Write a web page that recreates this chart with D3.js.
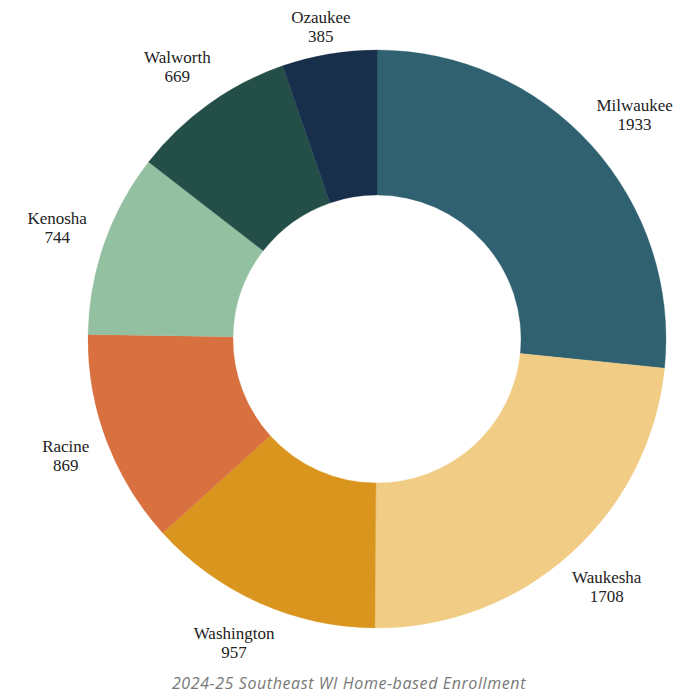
<!DOCTYPE html>
<html><head><meta charset="utf-8">
<script src="https://cdn.jsdelivr.net/npm/d3@7"></script>
<style>
html,body{margin:0;padding:0;background:#fff;}
svg{display:block;}
</style></head>
<body>
<svg id="chart" width="700" height="700"></svg>
<script>
const counties = ["Milwaukee","Waukesha","Washington","Racine","Kenosha","Walworth","Ozaukee"];
const enrollment = [1933,1708,957,869,744,669,385];
const colors = ["#2f6170","#f0cc85","#d9951d","#d9703f","#93c0a0","#244f48","#172f4b"];
const caption = "2024-25 Southeast WI Home-based Enrollment";

const svg = d3.select("#chart");
const cx = 377, cy = 339, R = 289, r = 144;
const data = counties.map((c,i)=>({name:c, value:enrollment[i]}));
const pie = d3.pie().value(d=>d.value).sort(null);
const arcs = pie(data);
const arc = d3.arc().innerRadius(r).outerRadius(R);
const color = d3.scaleOrdinal().domain(counties).range(colors);

const g = svg.append("g").attr("transform",`translate(${cx},${cy})`);
g.selectAll("path").data(arcs).join("path")
  .attr("d",arc).attr("fill",d=>color(d.data.name))
  .attr("stroke",d=>color(d.data.name)).attr("stroke-width",0.3);

const d0 = 20;
const lab = g.selectAll("g.lab").data(arcs).join("g").attr("class","lab");
lab.each(function(d){
  const el = d3.select(this);
  const t = el.append("text").attr("text-anchor","middle")
    .style("font-family","'Liberation Serif', serif").style("font-size","17px").attr("fill","#222");
  t.append("tspan").attr("x",0).attr("y",-4.5).text(d.data.name);
  t.append("tspan").attr("x",0).attr("y",14.5).text(d.data.value);
  const bb = t.node().getBBox();
  const a = (d.startAngle+d.endAngle)/2;
  const ux = Math.sin(a), uy = -Math.cos(a);
  const x = (R+d0)*ux + bb.width/2*ux;
  let y = (R+d0)*uy + 25*uy;
  const topLimit = -cy + 8 - bb.y;
  if (y < topLimit) y = topLimit;
  el.attr("transform",`translate(${x},${y})`);
});

svg.append("text").attr("x",349).attr("y",689).attr("text-anchor","middle")
  .style("font-family","'Open Sans', sans-serif").style("font-style","italic")
  .style("font-size","16px").style("letter-spacing","0.6px").attr("fill","#777").text(caption);
</script>
</body></html>
